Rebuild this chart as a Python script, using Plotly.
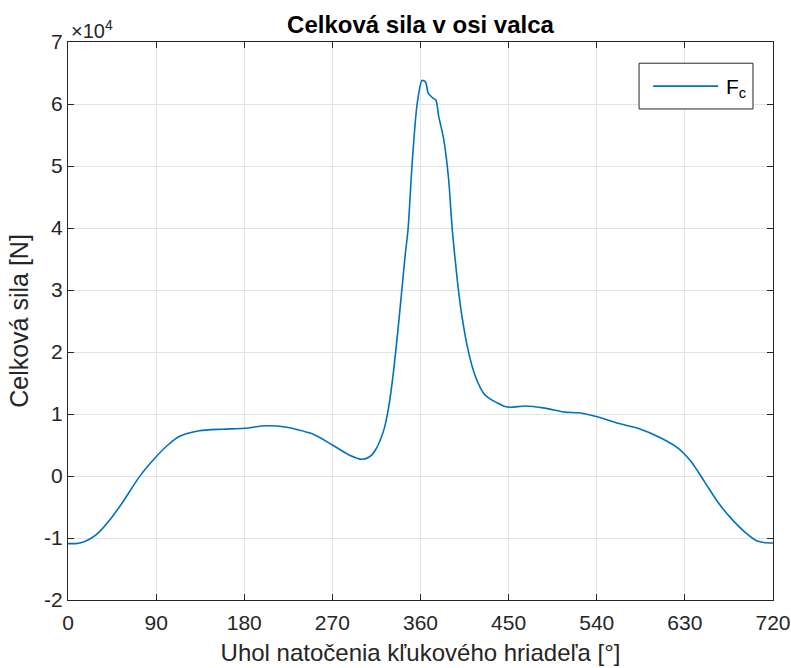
import plotly.graph_objects as go

# Crank angle [deg] and total force along the cylinder axis [N]
angle_deg = [0, 8, 15, 24, 32, 44, 56, 73, 90, 102, 114, 134, 158, 180, 202, 222, 249.5,
             270, 287, 300.5, 308, 314, 322.5, 327.6, 332.7, 337, 341, 344.6, 347.3,
             351.3, 356.4, 361.5, 365, 368, 372.4, 375.8, 378.5, 383.6, 388.7, 392.4,
             397.5, 402.3, 409.2, 416, 424.3, 429.5, 439.6, 446.4, 453, 466.8, 487,
             507.5, 521, 541.5, 561.8, 582, 606, 623, 636.5, 650, 663.6, 677, 691, 704,
             716, 720]
force_1e4 = [-1.09, -1.09, -1.07, -1.00, -0.90, -0.68, -0.42, -0.01, 0.31, 0.50, 0.64,
             0.73, 0.755, 0.77, 0.81, 0.79, 0.68, 0.50, 0.34, 0.27, 0.31, 0.42, 0.74,
             1.12, 1.72, 2.36, 3.01, 3.60, 3.98, 5.00, 5.98, 6.38, 6.36, 6.17, 6.10, 6.06,
             5.81, 5.44, 4.79, 3.98, 3.17, 2.58, 1.99, 1.61, 1.34, 1.26, 1.17, 1.12, 1.11,
             1.13, 1.095, 1.03, 1.02, 0.95, 0.85, 0.77, 0.61, 0.45, 0.23, -0.09, -0.42,
             -0.68, -0.90, -1.05, -1.08, -1.08]
force_N = [v * 1e4 for v in force_1e4]

x_ticks = [0, 90, 180, 270, 360, 450, 540, 630, 720]
y_ticks = [-2, -1, 0, 1, 2, 3, 4, 5, 6, 7]
series_name = "F<sub>c</sub>"
line_color = "#0072BD"

FONT = "Liberation Sans, Arial, Helvetica, sans-serif"
TXT = "#262626"

fig = go.Figure()
fig.add_trace(go.Scatter(
    x=angle_deg, y=force_N, mode="lines", name=series_name, showlegend=False,
    line=dict(color=line_color, width=1.6, shape="spline", smoothing=0.7),
))

axis_common = dict(
    showgrid=True, gridcolor="#e3e3e3", gridwidth=1,
    showline=True, linecolor=TXT, linewidth=1, mirror="ticks",
    ticks="inside", ticklen=6, tickcolor=TXT,
    tickfont=dict(family=FONT, size=21, color=TXT),
    zeroline=False, automargin=False, ticklabeloverflow="allow",
)

# Legend box drawn in paper coordinates (top-right corner of the axes)
box = dict(x0=0.810, x1=0.9716, y0=0.880, y1=0.962)
sample = dict(x0=0.830, x1=0.922, y=0.921)

fig.update_layout(
    width=791, height=668,
    margin=dict(l=68, r=18, t=42, b=68),
    paper_bgcolor="white", plot_bgcolor="white",
    title=dict(text="<b>Celková sila v osi valca</b>", x=(68 + 773) / 2 / 791,
               xanchor="center", y=1 - 25 / 668, yanchor="middle",
               font=dict(family=FONT, size=24, color="black")),
    xaxis=dict(range=[0, 720], tickvals=x_ticks, ticktext=[str(t) for t in x_ticks],
               ticklabelstandoff=4,
               title=dict(text="Uhol natočenia kľukového hriadeľa [°]", standoff=10,
                          font=dict(family=FONT, size=24, color=TXT)),
               **axis_common),
    yaxis=dict(range=[-2e4, 7e4], tickvals=[t * 1e4 for t in y_ticks],
               ticktext=[str(t) for t in y_ticks], ticklabelstandoff=0,
               title=dict(text="Celková sila [N]", standoff=8,
                          font=dict(family=FONT, size=25, color=TXT)),
               **axis_common),
    showlegend=False,
    shapes=[
        dict(type="rect", xref="paper", yref="paper", fillcolor="white",
             line=dict(color=TXT, width=1), layer="above", **box),
        dict(type="line", xref="paper", yref="paper", x0=sample["x0"], x1=sample["x1"],
             y0=sample["y"], y1=sample["y"], line=dict(color=line_color, width=1.6),
             layer="above"),
    ],
    annotations=[
        dict(text="×10<sup>4</sup>", xref="paper", yref="paper",
             x=0, y=1, xanchor="left", yanchor="bottom", yshift=-2, xshift=1,
             showarrow=False, font=dict(family=FONT, size=20, color=TXT)),
        dict(text=series_name, xref="paper", yref="paper", x=0.9305, y=sample["y"],
             xanchor="left", yanchor="middle", showarrow=False, yshift=-2,
             font=dict(family=FONT, size=21, color="black")),
    ],
)

fig.write_html("out.html")
